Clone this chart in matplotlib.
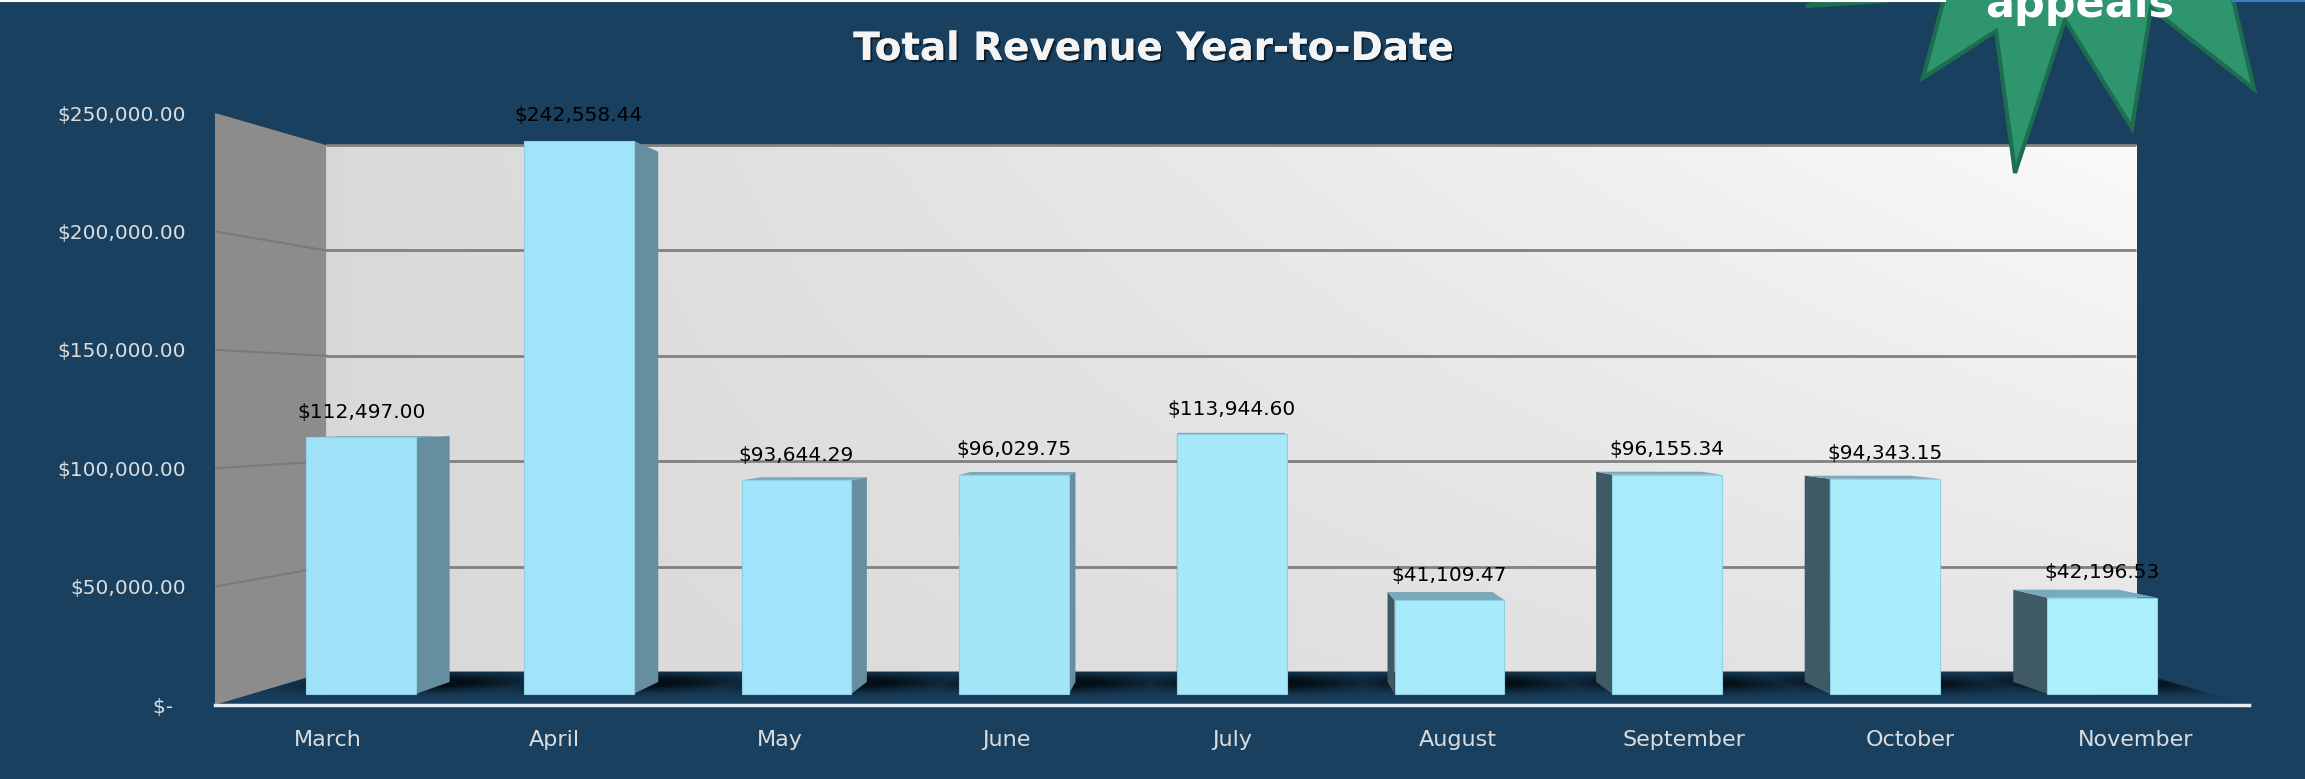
import numpy as np
import matplotlib
matplotlib.use('Agg')
import matplotlib.pyplot as plt
from matplotlib.patches import Polygon
from matplotlib.lines import Line2D
import matplotlib.patheffects as pe

plt.rcParams['font.family'] = ['DejaVu Sans']

# data
months = ['March', 'April', 'May', 'June', 'July', 'August',
          'September', 'October', 'November']
revenue = [112497.00, 242558.44, 93644.29, 96029.75, 113944.60,
           41109.47, 96155.34, 94343.15, 42196.53]
yticks = [0, 50000, 100000, 150000, 200000, 250000]
ytick_labels = ['$-  ', '$50,000.00', '$100,000.00', '$150,000.00',
                '$200,000.00', '$250,000.00']
title = 'Total Revenue Year-to-Date'

BG = '#19405f'
W, H = 2305, 779

# fake 3d: points scale toward a vanishing point as they go back
VX, VY = 3.97, 126700
S_WALL = 0.89      # back wall
S_FRONT = 0.963    # bar front faces
S_BACK = 0.923     # bar back faces
HALF = 0.252       # half bar width (category units)


def proj(x, v, s):
    x = np.asarray(x, dtype=float)
    v = np.asarray(v, dtype=float)
    return VX + (x - VX) * s, VY + (v - VY) * s


def poly(pts, **kw):
    xs, ys = zip(*[proj(*p) for p in pts])
    return Polygon(np.column_stack([xs, ys]), closed=True, **kw)


fig = plt.figure(figsize=(W / 100, H / 100), dpi=100, facecolor=BG)
ax = fig.add_axes([215 / W, 74 / H, 2034 / W, 592 / H])
ax.set_xlim(-0.5, 8.5)
ax.set_ylim(0, 250000)
ax.patch.set_visible(False)

n = len(months)
xl, xr = -0.5, n - 0.5
ytop = yticks[-1]

# back wall with a soft gradient
bx0, by0 = proj(xl, 0, S_WALL)
bx1, by1 = proj(xr, ytop, S_WALL)
u = np.linspace(0, 1, 300)[None, :]
v = np.linspace(0, 1, 100)[:, None]
g = 0.85 + 0.05 * u + 0.08 * u * v
ax.imshow(np.dstack([g, g, g]), extent=(bx0, bx1, by0, by1), origin='lower',
          aspect='auto', zorder=0, interpolation='bilinear')
for t in yticks:
    gx, gy = proj([xl, xr], [t, t], S_WALL)
    ax.plot(gx, gy, color='#808080', lw=2, zorder=1, solid_capstyle='butt')

# left side wall
ax.add_patch(poly([(xl, 0, 1), (xl, ytop, 1), (xl, ytop, S_WALL), (xl, 0, S_WALL)],
                  facecolor='#8c8c8c', edgecolor='none', zorder=1))
for t in yticks[1:-1]:
    sx, sy = zip(proj(xl, t, 1), proj(xl, t, S_WALL))
    ax.plot(sx, sy, color='#7a7a7a', lw=1.5, zorder=1.5)

# floor with soft shadows behind the bars
floor = poly([(xl, 0, 1), (xr, 0, 1), (xr, 0, S_WALL), (xl, 0, S_WALL)],
             facecolor=BG, edgecolor='none', zorder=1)
ax.add_patch(floor)
fy1 = proj(0, 0, S_WALL)[1]
gx = np.linspace(xl, xr, 1200)[None, :]
gy = np.linspace(0, fy1, 80)[:, None]
s = 1 - gy / VY
X = VX + (gx - VX) / s
alpha = np.zeros((gy.size, gx.size))
for i in range(n):
    a = np.exp(-((X - (i + 0.12)) / 0.52) ** 2) * np.exp(-((s - 0.928) / 0.03) ** 2)
    alpha = np.maximum(alpha, a)
alpha = np.clip(alpha * 1.25, 0, 1)
shadow = np.zeros((gy.size, gx.size, 4))
shadow[..., 0] = 0.02
shadow[..., 1] = 0.06
shadow[..., 2] = 0.09
shadow[..., 3] = alpha
im = ax.imshow(shadow, extent=(xl, xr, 0, fy1), origin='lower', aspect='auto',
               zorder=2, interpolation='bilinear')
im.set_clip_path(floor)

# bars
front_a = np.array([0x9f, 0xe1, 0xf7]) / 255
front_b = np.array([0xab, 0xef, 0xfd]) / 255
for i, val in enumerate(revenue):
    a, b = i - HALF, i + HALF
    if i < VX:
        ax.add_patch(poly([(b, 0, S_FRONT), (b, 0, S_BACK), (b, val, S_BACK), (b, val, S_FRONT)],
                          facecolor='#658f9e', edgecolor='none', zorder=3))
    else:
        ax.add_patch(poly([(a, 0, S_FRONT), (a, 0, S_BACK), (a, val, S_BACK), (a, val, S_FRONT)],
                          facecolor='#3f5a64', edgecolor='none', zorder=3))
    if val < VY:
        ax.add_patch(poly([(a, val, S_FRONT), (b, val, S_FRONT), (b, val, S_BACK), (a, val, S_BACK)],
                          facecolor='#78aabb', edgecolor='none', zorder=3))
    c = front_a + (front_b - front_a) * i / (n - 1)
    ax.add_patch(poly([(a, 0, S_FRONT), (b, 0, S_FRONT), (b, val, S_FRONT), (a, val, S_FRONT)],
                      facecolor=c, edgecolor='#8fd0e6', lw=0.8, zorder=4))
    ax.annotate(f'${val:,.2f}', xy=proj(i, val, S_FRONT), xytext=(0, 18),
                textcoords='offset points', ha='center', va='center',
                fontsize=14.5, color='black', zorder=6, annotation_clip=False)

# axes
for side in ['left', 'right', 'top']:
    ax.spines[side].set_visible(False)
ax.spines['bottom'].set_color('#e6edf2')
ax.spines['bottom'].set_linewidth(2.5)
ax.spines['bottom'].set_zorder(5)
ax.set_xticks(range(n))
ax.set_xticklabels(months)
ax.set_yticks(yticks)
ax.set_yticklabels(ytick_labels)
ax.tick_params(axis='x', length=0, pad=18, labelsize=16, labelcolor='#dcdcdc')
ax.tick_params(axis='y', length=0, pad=21, labelsize=14.5, labelcolor='#dcdcdc')

fig.text(1153 / W, 1 - 49 / H, title, ha='center', va='center', fontsize=28,
         fontweight='bold', color='#f4f4f4',
         path_effects=[pe.withSimplePatchShadow(offset=(1.5, -1.5), shadow_rgbFace='black', alpha=0.5),
                       pe.Normal()])

# top strip and the cut-off burst shape in the corner
fig.add_artist(Line2D([0, 1945 / W], [1 - 0.8 / H] * 2, color='white', lw=1.5))
fig.add_artist(Line2D([2233 / W, 1], [1 - 0.8 / H] * 2, color='#3b82c4', lw=1.5))
star = [(1945, -5), (1923, 78), (1996, 31), (2015, 173), (2065, 20), (2132, 128),
        (2151, 8), (2254, 89), (2232, -5)]
fig.add_artist(Polygon([(x / W, 1 - y / H) for x, y in star], closed=True,
                       transform=fig.transFigure, facecolor='#2e956f',
                       edgecolor='#1d6e4f', lw=3, joinstyle='miter'))
spike = [(1806, 6), (1845, -5), (1888, -5), (1886, 1)]
fig.add_artist(Polygon([(x / W, 1 - y / H) for x, y in spike], closed=True,
                       transform=fig.transFigure, facecolor='#2e956f',
                       edgecolor='#1d6e4f', lw=3))
fig.text(2080 / W, 1 - 17 / H, 'appeals', ha='center', va='baseline',
         fontsize=31, fontweight='bold', color='white')

fig.savefig('out.png', dpi=100, facecolor=BG)
